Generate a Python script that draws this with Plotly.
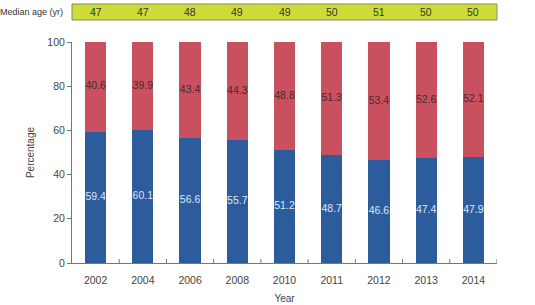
import plotly.graph_objects as go

years = ["2002", "2004", "2006", "2008", "2010", "2011", "2012", "2013", "2014"]
lower_pct = [59.4, 60.1, 56.6, 55.7, 51.2, 48.7, 46.6, 47.4, 47.9]
upper_pct = [40.6, 39.9, 43.4, 44.3, 48.8, 51.3, 53.4, 52.6, 52.1]
median_age = [47, 47, 48, 49, 49, 50, 51, 50, 50]
y_ticks = [0, 20, 40, 60, 80, 100]

BLUE = "#2d5c9c"
RED = "#c8505f"
FONT = "Liberation Sans"

idx = list(range(len(years)))

fig = go.Figure()
fig.add_trace(go.Bar(x=idx, y=lower_pct, marker=dict(color=BLUE, line=dict(width=0)),
                     width=0.45, showlegend=False, hoverinfo="skip"))
fig.add_trace(go.Bar(x=idx, y=upper_pct, marker=dict(color=RED, line=dict(width=0)),
                     width=0.45, showlegend=False, hoverinfo="skip"))

# value labels centred in segments
fig.add_trace(go.Scatter(x=idx, y=[v / 2 for v in lower_pct], mode="text",
                         text=[f"{v:.1f}" for v in lower_pct],
                         textfont=dict(family=FONT, size=10.5, color="#dce6f8"),
                         showlegend=False, hoverinfo="skip"))
fig.add_trace(go.Scatter(x=idx, y=[l + u / 2 for l, u in zip(lower_pct, upper_pct)], mode="text",
                         text=[f"{v:.1f}" for v in upper_pct],
                         textfont=dict(family=FONT, size=10.5, color="#4a2a2e"),
                         showlegend=False, hoverinfo="skip"))

# median age strip
fig.add_shape(type="rect", xref="paper", yref="paper", x0=0, x1=1, y0=1.0995, y1=1.172,
              fillcolor="#cedc3a", line=dict(color="#8c8c5a", width=1), layer="above")
for i, age in zip(idx, median_age):
    fig.add_annotation(x=i, xref="x", y=1.136, yref="paper", text=str(age), showarrow=False,
                       font=dict(family=FONT, size=10.5, color="#333333"), xanchor="center", yanchor="middle")
fig.add_annotation(x=-0.017, xref="paper", y=1.136, yref="paper", text="Median age (yr)", showarrow=False,
                   font=dict(family=FONT, size=9, color="#333333"), xanchor="right", yanchor="middle")

fig.update_layout(
    width=535, height=305,
    margin=dict(l=72, r=38, t=42, b=42),
    barmode="stack",
    plot_bgcolor="white", paper_bgcolor="white",
    font=dict(family=FONT, size=10.5, color="#444444"),
    xaxis=dict(range=[-0.5, len(years) - 0.5], tickvals=idx, ticktext=years, automargin=False,
               showline=True, linecolor="#777777", linewidth=1,
               ticks="", ticklabelstandoff=7, tickfont=dict(size=10.5, color="#444444"),
               title=dict(text="Year", font=dict(size=10, color="#444444"), standoff=10),
               showgrid=False, zeroline=False),
    yaxis=dict(range=[0, 100], tickvals=y_ticks, showline=True, linecolor="#777777", linewidth=1,
               automargin=False,
               ticks="outside", ticklen=4, tickcolor="#777777",
               tickfont=dict(size=10.5, color="#444444"),
               title=dict(text="Percentage", font=dict(size=10, color="#444444"), standoff=10),
               showgrid=False, zeroline=False),
)

# boundary tick marks on the x axis (inside, between categories)
for b in [i + 0.5 for i in idx]:
    fig.add_shape(type="line", xref="x", yref="paper", x0=b, x1=b, y0=0, y1=0.018,
                  line=dict(color="#777777", width=1))

fig.write_html("out.html")
